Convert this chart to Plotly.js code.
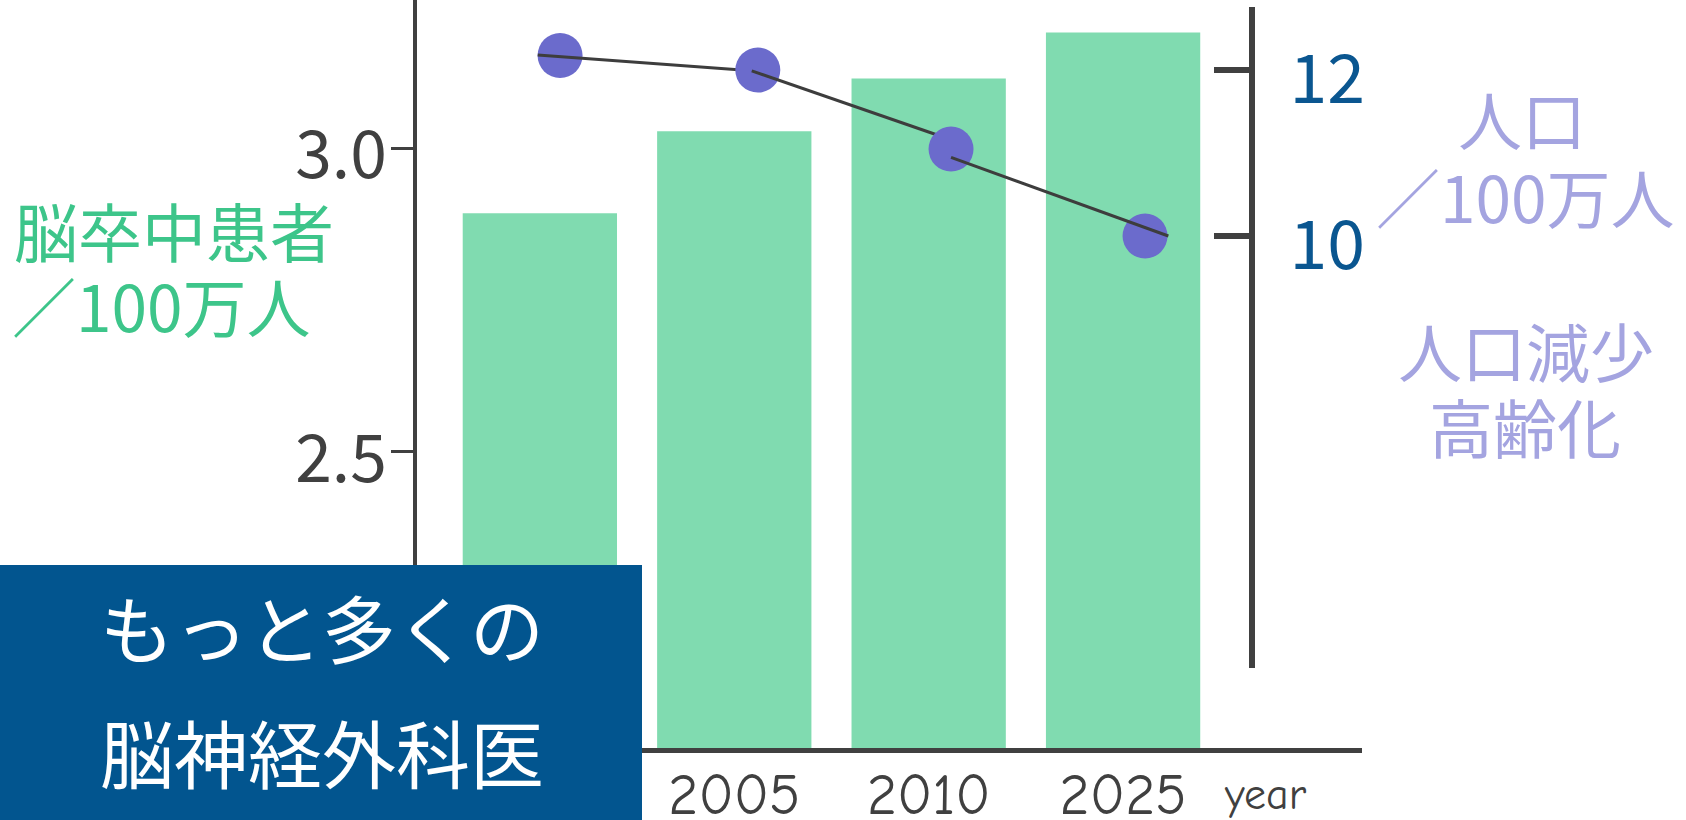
<!DOCTYPE html>
<html>
<head>
<meta charset="utf-8">
<script src="https://cdn.plot.ly/plotly-3.0.1.min.js"></script>
<style>
html, body { margin: 0; padding: 0; background: #ffffff; }
#chart { width: 1686px; height: 820px; }
</style>
</head>
<body>
<div id="chart"></div>
<script>
// ---- data ----
const years = ['2000', '2005', '2010', '2025'];          // x tick labels (first one hidden by the box)
const yearIndex = [0, 1, 2, 3];
const strokePatients = [2.893, 3.028, 3.115, 3.191];    // 脳卒中患者 / 100万人 (bars, left axis)
const populationX = [0.104, 1.121, 2.115, 3.113];       // marker positions (in year-slot units)
const population = [12.175, 12.0, 11.048, 10.0];        // 人口 / 100万人 (markers, right axis)
const trendX = [-0.011, 1.09, 2.115, 2.115, 3.233];     // hand-drawn trend line vertices
const trendY = [12.18, 11.99, 11.16, 10.948, 10.0];
const leftTicks = [2.5, 3.0];
const leftTickText = ['2.5', '3.0'];
const rightTicks = [10, 12];
const rightTickText = ['10', '12'];

// ---- page geometry ----
const W = 1686, H = 820;
const M = { l: 417, r: 324, t: 0, b: 72 };
const PW = W - M.l - M.r, PH = H - M.t - M.b;
const px2x = px => (px - M.l) / PW;
const px2y = py => (M.t + PH - py) / PH;

const JP = '"Noto Sans CJK JP", "Noto Sans", sans-serif';
const COMIC = '"Comic Sans MS", "Comic Neue", Lato, sans-serif';
const AXIS = '#404040';
const GREEN = '#3dc58a';
const PURPLE = '#a4a4e0';
const NAVY = '#02558f';

function markerTrace(idx) {
  return {
    type: 'scatter', mode: 'markers', xaxis: 'x', yaxis: 'y2',
    x: idx.map(i => populationX[i]), y: idx.map(i => population[i]),
    marker: { color: '#6b6bcc', size: 45, line: { width: 0 } },
    hoverinfo: 'skip', showlegend: false, cliponaxis: false
  };
}
function lineTrace(i, j) {
  return {
    type: 'scatter', mode: 'lines', xaxis: 'x', yaxis: 'y2',
    x: trendX.slice(i, j + 1), y: trendY.slice(i, j + 1),
    line: { color: '#3d3d3d', width: 3 },
    hoverinfo: 'skip', showlegend: false, cliponaxis: false
  };
}

const data = [
  {
    type: 'bar', x: yearIndex, y: strokePatients, xaxis: 'x', yaxis: 'y',
    marker: { color: '#80dbb0', line: { width: 0 } },
    hoverinfo: 'skip', showlegend: false
  },
  markerTrace([0]),
  lineTrace(0, 1),
  markerTrace([1]),
  lineTrace(1, 2),
  markerTrace([2, 3]),
  lineTrace(3, 4)
];

function ann(text, px, py, size, color, family, xanchor) {
  return {
    text: text, xref: 'paper', yref: 'paper',
    x: px2x(px), y: px2y(py), xanchor: xanchor || 'center', yanchor: 'middle',
    showarrow: false, font: { family: family || JP, size: size, color: color }
  };
}

const layout = {
  width: W, height: H,
  margin: M,
  paper_bgcolor: '#ffffff', plot_bgcolor: 'rgba(0,0,0,0)',
  showlegend: false,
  bargap: 0.2063,
  xaxis: {
    type: 'linear', range: [-0.632, 4.229],
    tickmode: 'array', tickvals: yearIndex, ticktext: years,
    showline: true, linecolor: AXIS, linewidth: 5,
    ticks: '', showgrid: false, zeroline: false,
    ticklabelstandoff: -9,
    tickfont: { family: COMIC, size: 58, color: AXIS },
    fixedrange: true
  },
  yaxis: {
    range: [2.0114, 3.2445],
    tickmode: 'array', tickvals: leftTicks, ticktext: leftTickText,
    showline: true, linecolor: AXIS, linewidth: 4,
    ticks: 'outside', ticklen: 22, tickwidth: 3, tickcolor: AXIS,
    ticklabelstandoff: -9, ticklabelshift: 7,
    showgrid: false, zeroline: false,
    tickfont: { family: JP, size: 66, color: AXIS },
    fixedrange: true
  },
  yaxis2: {
    anchor: 'free', side: 'right', position: 0.8834,
    domain: [0.1066, 0.991],
    range: [4.7916, 12.7627],
    tickmode: 'array', tickvals: rightTicks, ticktext: rightTickText,
    showline: true, linecolor: AXIS, linewidth: 6,
    ticks: 'inside', ticklen: 35, tickwidth: 6, tickcolor: AXIS,
    ticklabelstandoff: 21, ticklabelshift: 9,
    showgrid: false, zeroline: false,
    tickfont: { family: JP, size: 68, color: '#0a5690' },
    fixedrange: true
  },
  shapes: [{
    type: 'rect', xref: 'paper', yref: 'paper', layer: 'above',
    x0: px2x(0), x1: px2x(642), y0: px2y(H), y1: px2y(565),
    fillcolor: NAVY, line: { width: 0 }
  }],
  annotations: [
    ann('脳卒中患者', 12, 229, 64, GREEN, JP, 'left'),
    ann('／100万人', 10, 304, 64, GREEN, JP, 'left'),
    ann('人口', 1522, 117, 64, PURPLE),
    ann('／100万人', 1525, 195, 64, PURPLE),
    ann('人口減少', 1526, 349, 64, PURPLE),
    ann('高齢化', 1525, 425, 64, PURPLE),
    ann('もっと多くの', 322, 625, 74, '#ffffff'),
    ann('脳神経外科医', 322, 751, 74, '#ffffff'),
    ann('year', 1265, 794, 44, AXIS, COMIC)
  ]
};

Plotly.newPlot('chart', data, layout, { staticPlot: true, displayModeBar: false });
</script>
</body>
</html>
